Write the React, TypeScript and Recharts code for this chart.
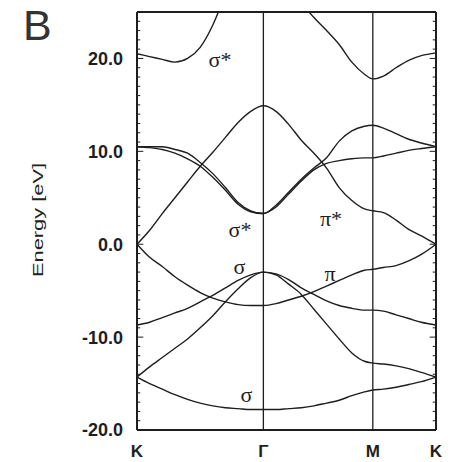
import {
  LineChart,
  Line,
  XAxis,
  YAxis,
  ReferenceLine,
  ReferenceDot,
} from 'recharts';

// k path K -> Γ -> M -> K (|KΓ| = 1, |ΓM| = 0.866, |MK| = 0.5)
const kPoints = [
  0, 0.1, 0.2, 0.3, 0.4, 0.5, 0.6, 0.7, 0.8, 0.9, 1.0, 1.1, 1.2, 1.3, 1.4, 1.5, 1.6, 1.7, 1.8,
  1.866, 1.95, 2.05, 2.15, 2.25, 2.366,
];
const symTicks = [0, 1, 1.866, 2.366];
const symNames = ['K', 'Γ', 'M', 'K'];
const energyTicks = [-20, -10, 0, 10, 20];

// bands (eV), one value per k point
const sigmaStarTop = [
  20.5, 20.2, 19.9, 19.6, 20.0, 21.2, 23.6, 27.0, null, null, null, null, null, 26.0, 24.4, 23.0,
  21.5, 19.6, 18.3, 17.8, 18.1, 19.0, 19.8, 20.3, 20.6,
];
const sigmaStarA = [
  10.5, 10.5, 10.5, 10.2, 9.8, 8.8, 7.6, 6.1, 4.5, 3.6, 3.3, 4.2, 5.6, 7.0, 8.2, 9.3, 11.1, 12.2,
  12.7, 12.8, 12.5, 11.9, 11.3, 10.9, 10.5,
];
const sigmaStarB = [
  10.5, 10.4, 10.2, 9.8, 9.2, 8.4, 7.2, 5.8, 4.3, 3.5, 3.3, 4.0, 5.4, 6.8, 8.0, 8.7, 9.0, 9.2, 9.3,
  9.3, 9.5, 9.8, 10.1, 10.3, 10.5,
];
const piStar = [
  0, 1.5, 3.3, 5.0, 6.7, 8.4, 9.9, 11.5, 13.1, 14.3, 14.9, 14.3, 12.9, 11.2, 9.8, 8.2, 6.1, 4.7,
  3.8, 3.6, 3.4, 2.6, 1.6, 0.9, 0,
];
const pi = [
  0, -1.4, -2.4, -3.5, -4.4, -5.2, -5.8, -6.2, -6.5, -6.6, -6.6, -6.4, -6.0, -5.6, -5.1, -4.5, -3.9,
  -3.3, -2.8, -2.7, -2.5, -2.3, -1.8, -1.1, 0,
];
const sigma2 = [
  -8.7, -8.4, -7.9, -7.4, -6.9, -6.2, -5.5, -4.7, -3.9, -3.3, -3.0, -3.2, -3.8, -4.7, -5.4, -6.1,
  -6.6, -6.9, -7.1, -7.1, -7.2, -7.6, -8.0, -8.4, -8.7,
];
const sigma3 = [
  -14.3, -13.2, -12.2, -11.2, -10.2, -9.0, -7.7, -6.2, -4.8, -3.6, -3.0, -3.3, -4.3, -5.4, -7.0,
  -8.6, -10.2, -11.7, -12.6, -12.8, -12.9, -13.1, -13.4, -13.8, -14.3,
];
const sigma1 = [
  -14.3, -15.0, -15.6, -16.2, -16.7, -17.1, -17.4, -17.6, -17.7, -17.8, -17.8, -17.8, -17.7, -17.6,
  -17.4, -17.1, -16.8, -16.3, -15.9, -15.7, -15.6, -15.4, -15.1, -14.8, -14.3,
];

const bands = { sigmaStarTop, sigmaStarA, sigmaStarB, piStar, pi, sigma2, sigma3, sigma1 };

const rows = kPoints.map((k, i) => {
  const row: Record<string, number | null> = { k };
  Object.entries(bands).forEach(([name, vals]) => {
    row[name] = vals[i];
  });
  return row;
});

const minorTicks: number[] = [];
for (let e = -19; e <= 24; e++) minorTicks.push(e);

const K_END = 2.366;
const INK = '#1e1e1e';

const greek = (txt: string) => (props: any) => {
  const vb = props.viewBox;
  const cx = vb.x + (vb.width || 0) / 2;
  const cy = vb.y + (vb.height || 0) / 2;
  return (
    <text
      x={cx}
      y={cy}
      textAnchor="middle"
      dominantBaseline="central"
      fontFamily="Liberation Serif"
      fontSize={22}
      fill={INK}
    >
      {txt}
    </text>
  );
};

const energyLabel = () => (
  <text
    x={43}
    y={220}
    transform="rotate(-90, 43, 220)"
    textAnchor="middle"
    fontFamily="Liberation Sans"
    fontSize={14}
    textLength={114}
    lengthAdjust="spacingAndGlyphs"
    fill="#222"
  >
    Energy [eV]
  </text>
);

const panelLabel = () => (
  <text x={23} y={40} fontFamily="Liberation Sans" fontSize={43} fill="#333">
    B
  </text>
);

export default function App() {
  return (
    <div style={{ position: 'absolute', left: 0, top: 0 }}>
      <LineChart width={452} height={462} data={rows} margin={{ top: 0, right: 0, bottom: 0, left: 0 }}>
        <XAxis
          dataKey="k"
          type="number"
          domain={[0, K_END]}
          ticks={symTicks}
          interval={0}
          tickFormatter={(v: number) => symNames[symTicks.indexOf(v)] ?? ''}
          tickLine={false}
          tickSize={0}
          tickMargin={15}
          height={32}
          axisLine={{ stroke: INK, strokeWidth: 2 }}
          tick={{ fontSize: 17, fill: INK, fontFamily: 'Liberation Sans', fontWeight: 600 }}
        />
        <XAxis
          xAxisId="top"
          orientation="top"
          dataKey="k"
          type="number"
          domain={[0, K_END]}
          ticks={symTicks}
          tick={false}
          tickLine={false}
          height={12}
          axisLine={{ stroke: INK, strokeWidth: 2 }}
          label={panelLabel}
        />
        <YAxis
          type="number"
          domain={[-20, 25]}
          allowDataOverflow
          ticks={energyTicks}
          interval={0}
          width={137}
          tickSize={0}
          tickMargin={14}
          tickLine={false}
          axisLine={{ stroke: INK, strokeWidth: 2 }}
          tickFormatter={(v: number) => v.toFixed(1)}
          tick={{ fontSize: 18, fill: INK, fontFamily: 'Liberation Sans', fontWeight: 600 }}
          label={energyLabel}
        />
        <YAxis
          yAxisId="right"
          orientation="right"
          type="number"
          domain={[-20, 25]}
          allowDataOverflow
          width={16}
          tick={false}
          tickLine={false}
          axisLine={{ stroke: INK, strokeWidth: 2 }}
        />
        {minorTicks.map((e) => {
          const len = e % 10 === 0 ? 0.05 : 0.026;
          return (
            <ReferenceLine
              key={'l' + e}
              segment={[
                { x: 0, y: e },
                { x: len, y: e },
              ]}
              stroke={INK}
              strokeWidth={1}
            />
          );
        })}
        {minorTicks.map((e) => {
          const len = e % 10 === 0 ? 0.05 : 0.026;
          return (
            <ReferenceLine
              key={'r' + e}
              segment={[
                { x: K_END - len, y: e },
                { x: K_END, y: e },
              ]}
              stroke={INK}
              strokeWidth={1}
            />
          );
        })}
        <ReferenceLine x={1} stroke={INK} strokeWidth={1.3} />
        <ReferenceLine x={1.866} stroke={INK} strokeWidth={1.3} />
        {Object.keys(bands).map((name) => (
          <Line
            key={name}
            dataKey={name}
            type="monotone"
            stroke={INK}
            strokeWidth={1.4}
            dot={false}
            activeDot={false}
            isAnimationActive={false}
          />
        ))}
        <ReferenceDot x={0.657} y={19.9} r={0} fill="none" stroke="none" label={greek('σ*')} />
        <ReferenceDot x={0.815} y={1.6} r={0} fill="none" stroke="none" label={greek('σ*')} />
        <ReferenceDot x={1.535} y={2.8} r={0} fill="none" stroke="none" label={greek('π*')} />
        <ReferenceDot x={0.81} y={-2.35} r={0} fill="none" stroke="none" label={greek('σ')} />
        <ReferenceDot x={1.527} y={-3.1} r={0} fill="none" stroke="none" label={greek('π')} />
        <ReferenceDot x={0.866} y={-16.2} r={0} fill="none" stroke="none" label={greek('σ')} />
      </LineChart>
    </div>
  );
}
